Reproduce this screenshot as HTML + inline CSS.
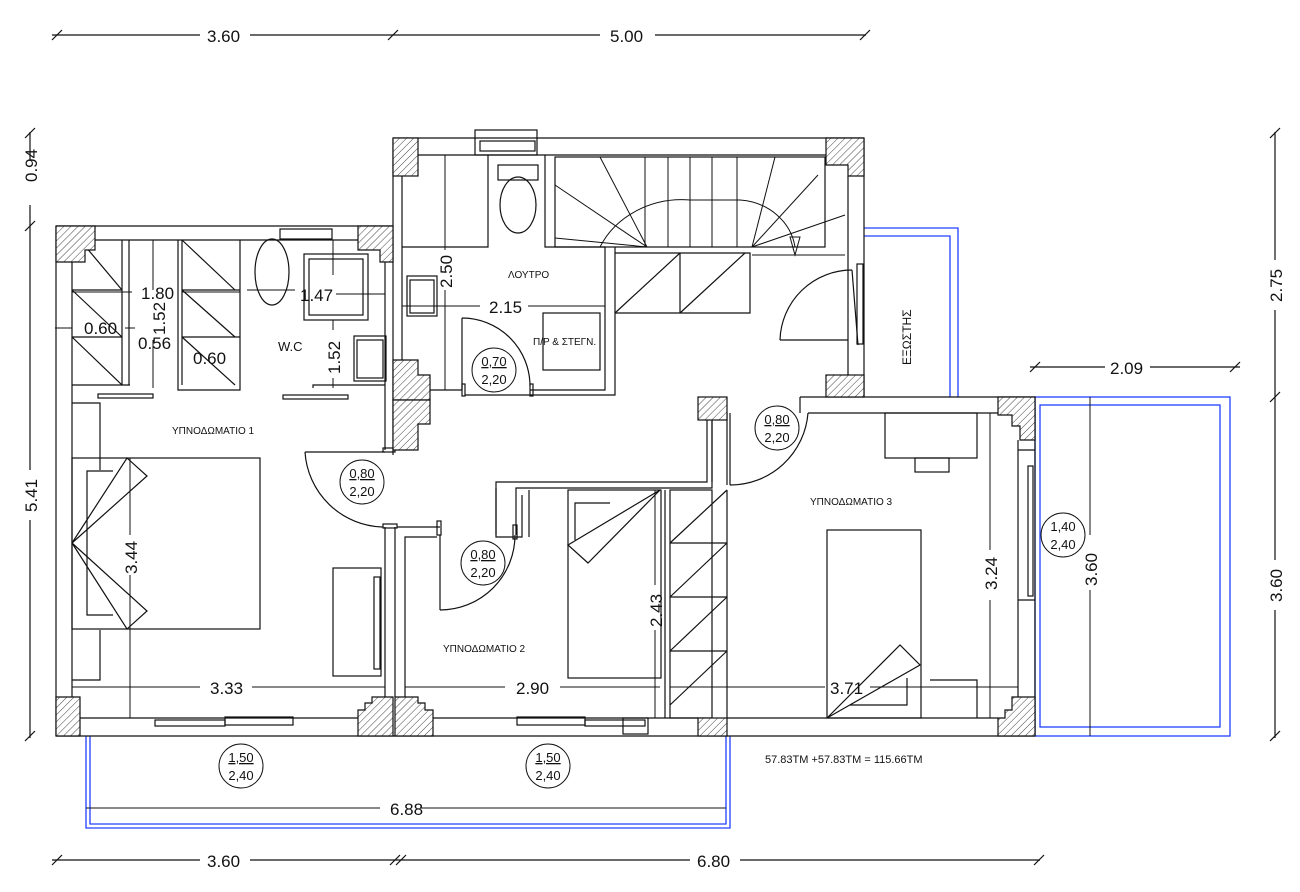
<!DOCTYPE html>
<html><head><meta charset="utf-8"><style>
html,body{margin:0;padding:0;background:#fff;}
svg{display:block;}
text{font-family:"Liberation Sans","DejaVu Sans",sans-serif;fill:#111;}
.d{font-size:17px;}
.s{font-size:10px;}
.c{font-size:13px;}
</style></head><body>
<svg width="1300" height="892" viewBox="0 0 1300 892" xmlns="http://www.w3.org/2000/svg">
<defs>
<pattern id="h" width="5" height="5" patternUnits="userSpaceOnUse" patternTransform="rotate(45)">
<rect width="5" height="5" fill="#fff"/><line x1="0" y1="0" x2="0" y2="5" stroke="#444" stroke-width="1"/>
</pattern>
</defs>
<g fill="none" stroke="#111" stroke-width="1.2">
<line x1="52" y1="35" x2="200" y2="35"/><line x1="250" y1="35" x2="600" y2="35"/><line x1="655" y1="35" x2="866" y2="35"/>
<line x1="52" y1="40" x2="62" y2="30"/><line x1="388" y1="40" x2="398" y2="30"/><line x1="860" y1="40" x2="870" y2="30"/>
<line x1="52" y1="860" x2="200" y2="860"/><line x1="250" y1="860" x2="690" y2="860"/><line x1="740" y1="860" x2="1040" y2="860"/>
<line x1="52" y1="865" x2="62" y2="855"/><line x1="390" y1="865" x2="400" y2="855"/><line x1="396" y1="865" x2="406" y2="855"/><line x1="1034" y1="865" x2="1044" y2="855"/>
<line x1="30" y1="132" x2="30" y2="160"/><line x1="30" y1="205" x2="30" y2="470"/><line x1="30" y1="520" x2="30" y2="738"/>
<line x1="25" y1="138" x2="35" y2="128"/><line x1="25" y1="231" x2="35" y2="221"/><line x1="25" y1="741" x2="35" y2="731"/>
<line x1="1275" y1="132" x2="1275" y2="260"/><line x1="1275" y1="310" x2="1275" y2="560"/><line x1="1275" y1="610" x2="1275" y2="738"/>
<line x1="1270" y1="138" x2="1280" y2="128"/><line x1="1270" y1="402" x2="1280" y2="392"/><line x1="1270" y1="741" x2="1280" y2="731"/>
<line x1="1030" y1="367" x2="1105" y2="367"/><line x1="1150" y1="367" x2="1240" y2="367"/>
<line x1="1030" y1="372" x2="1040" y2="362"/><line x1="1230" y1="372" x2="1240" y2="362"/>
</g>
<g class="d">
<text x="207" y="42">3.60</text><text x="610" y="42">5.00</text>
<text x="207" y="867">3.60</text><text x="697" y="867">6.80</text>
<text x="1110" y="374" >2.09</text>
<text transform="translate(37,182) rotate(-90)">0.94</text>
<text transform="translate(37,512) rotate(-90)">5.41</text>
<text transform="translate(1282,302) rotate(-90)">2.75</text>
<text transform="translate(1282,602) rotate(-90)">3.60</text>
</g>

<g fill="none" stroke="#2040ff" stroke-width="1.3">
<rect x="1035" y="397" width="195" height="339"/>
<rect x="1040" y="405" width="180" height="322"/>
<polyline points="86,736 86,828 730,828 730,736"/>
<polyline points="90,736 90,824 726,824 726,736"/>
<polyline points="864,228 958,228 958,397"/>
<polyline points="864,236 950,236 950,397"/>
</g>

<g fill="none" stroke="#111" stroke-width="1.2">
<polyline points="56,226 393,226"/><line x1="95" y1="240" x2="358" y2="240"/>
<line x1="56" y1="226" x2="56" y2="736"/><line x1="72" y1="262" x2="72" y2="697"/>
<line x1="56" y1="736" x2="1035" y2="736"/>
<line x1="80" y1="718" x2="358" y2="718"/><line x1="418" y1="718" x2="698" y2="718"/><line x1="727" y1="718" x2="998" y2="718"/>
<line x1="393" y1="138" x2="864" y2="138"/><line x1="418" y1="155" x2="826" y2="155"/>
<line x1="393" y1="138" x2="393" y2="455"/><line x1="402" y1="176" x2="402" y2="360"/>
<line x1="864" y1="138" x2="864" y2="397"/><line x1="848" y1="176" x2="848" y2="375"/>
<line x1="800" y1="397" x2="1035" y2="397"/><line x1="808" y1="413" x2="998" y2="413"/>
<line x1="800" y1="397" x2="800" y2="413"/>
<line x1="1035" y1="397" x2="1035" y2="736"/><line x1="1018" y1="440" x2="1018" y2="697"/>
<rect x="155" y="720" width="70" height="6"/><rect x="225" y="717" width="68" height="8"/>
<rect x="517" y="717" width="68" height="8"/><rect x="585" y="720" width="60" height="6"/>
<rect x="623" y="718" width="25" height="16"/>
<rect x="475" y="130" width="62" height="25"/><rect x="480" y="141" width="55" height="10"/>
<rect x="280" y="229" width="52" height="10"/>
<rect x="1028" y="466" width="5" height="130"/><rect x="857" y="264" width="6" height="80"/>

<polyline points="545,155 545,247 605,247 605,390 530,390"/>
<polyline points="615,247 615,395 465,395"/>
<polyline points="615,253 750,253 750,313 615,313"/>
<line x1="680" y1="253" x2="680" y2="313"/>
<line x1="615" y1="313" x2="680" y2="253"/><line x1="680" y1="313" x2="745" y2="253"/>
<rect x="555" y="157" width="270" height="90"/>
<g stroke-width="1">
<line x1="645" y1="157" x2="645" y2="247"/><line x1="668" y1="157" x2="668" y2="247"/><line x1="690" y1="157" x2="690" y2="247"/><line x1="712" y1="157" x2="712" y2="247"/><line x1="737" y1="157" x2="737" y2="247"/>
<line x1="600" y1="157" x2="647" y2="247"/><line x1="555" y1="185" x2="647" y2="247"/><line x1="555" y1="238" x2="647" y2="247"/>
<line x1="775" y1="157" x2="752" y2="247"/><line x1="818" y1="175" x2="752" y2="247"/><line x1="845" y1="215" x2="752" y2="247"/>
<path d="M600 247 A90 80 0 0 1 690 200 L740 200 A60 55 0 0 1 795 247"/>
<line x1="752" y1="255" x2="845" y2="255"/>
<path d="M790 237 L800 237 L795 255 Z"/>
</g>
<rect x="498" y="165" width="40" height="15"/>
<ellipse cx="518" cy="205" rx="18" ry="28"/>
<rect x="407" y="276" width="30" height="40"/><rect x="410" y="280" width="24" height="33"/>
<polyline points="402,247 488,247 488,155"/>
<rect x="543" y="313" width="57" height="57"/>
<line x1="402" y1="390" x2="462" y2="390"/><rect x="462" y="384" width="3" height="12"/><rect x="530" y="384" width="3" height="12"/>
<path d="M462 318 A68 68 0 0 1 530 386"/><line x1="462" y1="318" x2="462" y2="390"/>
<ellipse cx="272" cy="272" rx="17" ry="33"/>
<rect x="304" y="254" width="64" height="66"/><rect x="309" y="259" width="54" height="56"/>
<rect x="354" y="336" width="32" height="45"/><rect x="357" y="340" width="26" height="38"/>
<polyline points="313,388 313,385 385,385"/>
<line x1="385" y1="262" x2="385" y2="450"/><line x1="395" y1="400" x2="395" y2="450"/>
<rect x="98" y="394" width="55" height="4"/><rect x="283" y="395" width="65" height="4"/>
<line x1="122" y1="240" x2="122" y2="385"/><line x1="129" y1="240" x2="129" y2="385"/>
<line x1="72" y1="385" x2="130" y2="385"/>
<line x1="72" y1="290" x2="122" y2="290"/><line x1="72" y1="337" x2="122" y2="337"/>
<line x1="80" y1="240" x2="122" y2="290"/><line x1="72" y1="290" x2="122" y2="337"/><line x1="72" y1="337" x2="122" y2="385"/>
<polyline points="178,240 178,390 240,390 240,240"/><line x1="182" y1="240" x2="182" y2="385"/>
<line x1="182" y1="290" x2="240" y2="290"/><line x1="182" y1="337" x2="240" y2="337"/>
<line x1="182" y1="240" x2="235" y2="290"/><line x1="182" y1="290" x2="235" y2="337"/><line x1="182" y1="337" x2="235" y2="385"/>
<rect x="72" y="458" width="188" height="171"/>
<polyline points="113,471 87,471 87,615 113,615"/>
<path d="M72 543 L127 458 L147 476 Z"/><path d="M72 543 L127 629 L147 611 Z"/>
<rect x="333" y="568" width="48" height="108"/><rect x="374" y="577" width="6" height="92"/>
<polyline points="72,403 100,403 100,470"/><polyline points="100,630 100,680 72,680"/>
<line x1="385" y1="527" x2="385" y2="697"/><line x1="395" y1="527" x2="395" y2="697"/>
<rect x="383" y="524" width="14" height="4"/>
<line x1="397" y1="527" x2="440" y2="527"/><rect x="437" y="521" width="4" height="14"/>
<polyline points="405,697 405,537 437,537"/>
<path d="M305 452 A80 80 0 0 0 383 527"/><line x1="305" y1="452" x2="385" y2="452"/>
<rect x="383" y="448" width="12" height="4"/>
<path d="M440 610 A75 75 0 0 0 515 535"/><line x1="440" y1="535" x2="440" y2="610"/>
<rect x="513" y="525" width="4" height="14"/>
<polyline points="516,535 516,488 712,488 712,420"/><polyline points="496,535 496,482 707,482 707,420"/>
<polyline points="496,488 496,537 522,537 522,495"/>
<polyline points="529,537 529,490"/>
<rect x="568" y="490" width="93" height="188"/>
<polyline points="575,540 575,503 610,503"/>
<path d="M568 545 L660 490 L588 563 Z"/>
<line x1="665" y1="490" x2="665" y2="718"/>
<rect x="670" y="490" width="42" height="228"/><line x1="727" y1="490" x2="727" y2="718"/>
<line x1="670" y1="543" x2="727" y2="543"/><line x1="670" y1="597" x2="727" y2="597"/><line x1="670" y1="651" x2="727" y2="651"/>
<line x1="670" y1="543" x2="727" y2="490"/><line x1="670" y1="597" x2="727" y2="543"/><line x1="670" y1="651" x2="727" y2="597"/><line x1="670" y1="705" x2="727" y2="651"/>
<line x1="712" y1="413" x2="712" y2="482"/><line x1="727" y1="413" x2="727" y2="485"/>
<path d="M808 413 A78 78 0 0 1 730 485"/><line x1="730" y1="413" x2="730" y2="485"/>
<rect x="885" y="413" width="92" height="45"/><rect x="915" y="458" width="34" height="14"/>
<rect x="827" y="530" width="94" height="188"/>
<path d="M827 718 L900 645 L920 665 Z"/>
<polyline points="850,705 907,705 907,678"/>
<polyline points="930,680 977,680 977,718"/>
<polyline points="1018,450 1035,450"/><polyline points="1018,600 1035,600"/>
<path d="M780 340 A72 72 0 0 1 852 270"/><line x1="780" y1="340" x2="848" y2="340"/>
<line x1="852" y1="270" x2="858" y2="345"/>
</g>

<g fill="url(#h)" stroke="#111" stroke-width="1.2">
<path d="M56 226 H95 V250 H85 V262 H72 V262 H56 Z"/>
<path d="M358 226 H393 V262 H380 V250 H358 Z"/>
<rect x="393" y="138" width="25" height="38"/>
<path d="M826 138 H864 V176 H848 V165 H826 Z"/>
<path d="M393 360 H418 V375 H430 V400 H393 Z"/>
<path d="M393 400 H430 V424 H418 V450 H393 Z"/>
<rect x="826" y="375" width="38" height="22"/>
<rect x="698" y="397" width="29" height="23"/>
<path d="M998 397 H1035 V440 H1020 V426 H1012 V415 H998 Z"/>
<path d="M56 697 H80 V736 H56 Z"/>
<path d="M372 697 H393 V736 H358 V710 H365 V703 H372 Z"/>
<path d="M395 697 H418 V703 H425 V710 H433 V736 H395 Z"/>
<rect x="698" y="718" width="29" height="18"/>
<path d="M1018 697 H1035 V736 H998 V718 H1005 V710 H1012 V697 Z"/>
</g>

<g fill="none" stroke="#111" stroke-width="1">
<line x1="72" y1="292" x2="132" y2="292"/><line x1="182" y1="292" x2="240" y2="292"/>
<line x1="153" y1="240" x2="153" y2="290"/><line x1="153" y1="340" x2="153" y2="388"/>
<line x1="55" y1="328" x2="72" y2="328"/><line x1="125" y1="328" x2="135" y2="328"/>
<line x1="247" y1="290" x2="295" y2="290"/><line x1="336" y1="294" x2="385" y2="294"/>
<line x1="333" y1="240" x2="333" y2="275"/><line x1="333" y1="320" x2="333" y2="330"/><line x1="333" y1="378" x2="333" y2="388"/>
<line x1="445" y1="155" x2="445" y2="250"/><line x1="445" y1="290" x2="445" y2="390"/>
<line x1="402" y1="306" x2="480" y2="306"/><line x1="528" y1="306" x2="605" y2="306"/>
<line x1="72" y1="687" x2="200" y2="687"/><line x1="252" y1="687" x2="385" y2="687"/>
<line x1="405" y1="687" x2="505" y2="687"/><line x1="560" y1="687" x2="660" y2="687"/>
<line x1="670" y1="687" x2="825" y2="687"/><line x1="870" y1="687" x2="1018" y2="687"/>
<line x1="130" y1="458" x2="130" y2="535"/><line x1="130" y1="575" x2="130" y2="718"/>
<line x1="655" y1="490" x2="655" y2="585"/><line x1="655" y1="630" x2="655" y2="718"/>
<line x1="990" y1="413" x2="990" y2="550"/><line x1="990" y1="600" x2="990" y2="718"/>
<line x1="1090" y1="397" x2="1090" y2="535"/><line x1="1090" y1="590" x2="1090" y2="736"/>
<line x1="86" y1="808" x2="380" y2="808"/><line x1="420" y1="808" x2="726" y2="808"/>
</g>

<g fill="#fff" stroke="#111" stroke-width="1">
<circle cx="494" cy="370" r="22"/><circle cx="777" cy="428" r="22"/>
<circle cx="362" cy="482" r="22"/><circle cx="483" cy="563" r="22"/>
<circle cx="241" cy="766" r="22"/><circle cx="548" cy="766" r="22"/>
<circle cx="1063" cy="535" r="22"/>
</g>
<g class="c" text-anchor="middle">
<text x="494" y="366" text-decoration="underline">0,70</text><text x="494" y="384">2,20</text>
<text x="777" y="424" text-decoration="underline">0,80</text><text x="777" y="442">2,20</text>
<text x="362" y="478" text-decoration="underline">0,80</text><text x="362" y="496">2,20</text>
<text x="483" y="559" text-decoration="underline">0,80</text><text x="483" y="577">2,20</text>
<text x="241" y="762" text-decoration="underline">1,50</text><text x="241" y="780">2,40</text>
<text x="548" y="762" text-decoration="underline">1,50</text><text x="548" y="780">2,40</text>
<text x="1063" y="531">1,40</text><text x="1063" y="549">2,40</text>
</g>
<g class="d">
<text x="141" y="299">1.80</text>
<text x="300" y="301">1.47</text>
<text x="84" y="334">0.60</text>
<text x="138" y="349">0.56</text>
<text x="193" y="364">0.60</text>
<text x="489" y="313">2.15</text>
<text x="210" y="694">3.33</text>
<text x="516" y="694">2.90</text>
<text x="830" y="694">3.71</text>
<text x="390" y="815">6.88</text>
<text transform="translate(165,335) rotate(-90)">1.52</text>
<text transform="translate(340,374) rotate(-90)">1.52</text>
<text transform="translate(452,288) rotate(-90)">2.50</text>
<text transform="translate(137,574) rotate(-90)">3.44</text>
<text transform="translate(662,627) rotate(-90)">2.43</text>
<text transform="translate(997,590) rotate(-90)">3.24</text>
<text transform="translate(1097,586) rotate(-90)">3.60</text>
</g>
<g class="s">
<text x="172" y="434">ΥΠΝΟΔΩΜΑΤΙΟ 1</text>
<text x="443" y="652">ΥΠΝΟΔΩΜΑΤΙΟ 2</text>
<text x="810" y="505">ΥΠΝΟΔΩΜΑΤΙΟ 3</text>
<text x="508" y="278">ΛΟΥΤΡΟ</text>
<text x="533" y="345">Π/Ρ &amp; ΣΤΕΓΝ.</text>
<text x="278" y="351" style="font-size:13px">W.C</text>
<text x="765" y="763" style="font-size:11px">57.83TM +57.83TM = 115.66TM</text>
<text transform="translate(911,365) rotate(-90)" style="font-size:12px">ΕΞΩΣΤΗΣ</text>
</g>
</svg>
</body></html>
